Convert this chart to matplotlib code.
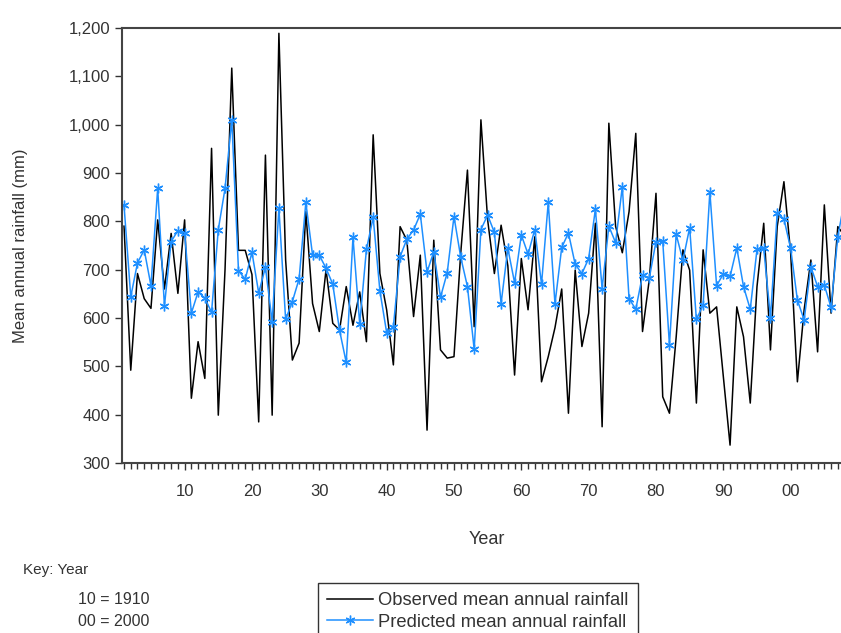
import numpy as np
import matplotlib
matplotlib.use("Agg")
import matplotlib.pyplot as plt
from matplotlib.ticker import FuncFormatter, MultipleLocator

# annual series 1901-2008
years = np.arange(1901, 2009)

observed = [790, 492, 692, 640, 620, 803, 660, 775, 651, 803,
            434, 551, 475, 951, 399, 700, 1117, 740, 740, 690,
            385, 937, 399, 1189, 720, 513, 548, 820, 630, 572,
            700, 589, 575, 665, 585, 654, 551, 979, 692, 617,
            503, 789, 761, 603, 730, 368, 761, 534, 517, 520,
            734, 906, 582, 1010, 803, 692, 792, 708, 482, 723,
            617, 768, 468, 520, 580, 660, 403, 699, 541, 610,
            796, 375, 1003, 790, 735, 820, 982, 572, 679, 858,
            437, 403, 561, 741, 699, 424, 741, 610, 623, 479,
            337, 623, 561, 424, 665, 796, 534, 789, 882, 734,
            468, 617, 720, 530, 834, 610, 789, 770]

predicted = [833, 644, 714, 741, 667, 868, 625, 758, 781, 776,
             610, 654, 641, 612, 783, 868, 1010, 698, 680, 736,
             652, 705, 592, 827, 597, 634, 681, 839, 730, 730,
             703, 670, 575, 508, 767, 588, 742, 808, 656, 570,
             582, 727, 763, 782, 815, 695, 737, 643, 694, 810,
             726, 665, 535, 783, 813, 777, 630, 744, 673, 772,
             732, 783, 670, 839, 629, 746, 776, 711, 692, 723,
             825, 661, 790, 756, 872, 640, 618, 689, 682, 758,
             759, 544, 773, 719, 787, 597, 627, 861, 667, 691,
             686, 745, 665, 618, 742, 744, 601, 817, 805, 744,
             637, 596, 706, 665, 668, 622, 768, 844]

decade_ticks = [1910, 1920, 1930, 1940, 1950, 1960, 1970, 1980, 1990, 2000]
decade_labels = ['10', '20', '30', '40', '50', '60', '70', '80', '90', '00']

plt.rcParams['font.family'] = ['Liberation Sans', 'DejaVu Sans']
txt = '#333333'

fig = plt.figure(figsize=(8.41, 6.33), dpi=100)
# plot area runs past the right edge, as in the cropped original
ax = fig.add_axes([122/841, 1-463/633, (858-122)/841, (463-28)/633])

obs_line, = ax.plot(years, observed, color='black', lw=1.1)
pred_line, = ax.plot(years, predicted, color='#1e8fff', lw=1.1,
                     marker=(6, 2, 0), markersize=7, markeredgewidth=1.0)

ax.set_xlim(1900.7, 2010)
ax.set_ylim(300, 1200)
ax.yaxis.set_major_locator(MultipleLocator(100))
ax.yaxis.set_major_formatter(FuncFormatter(lambda v, p: '{:,.0f}'.format(v)))
ax.set_xticks(decade_ticks)
ax.set_xticklabels(decade_labels)
ax.xaxis.set_minor_locator(MultipleLocator(1))

ax.tick_params(axis='both', which='major', direction='out', length=5,
               width=1, labelsize=12, colors=txt, labelcolor=txt)
ax.tick_params(axis='x', which='minor', direction='out', length=4, width=1, colors=txt)
ax.tick_params(axis='x', pad=10)
for s in ['left', 'bottom', 'top']:
    ax.spines[s].set_color('#444444')
    ax.spines[s].set_linewidth(1.5)
ax.spines['right'].set_visible(False)

ax.set_ylabel('Mean annual rainfall (mm)', fontsize=12, color=txt)
ax.yaxis.set_label_coords(-0.128, 0.5)
ax.set_xlabel('Year', fontsize=13, color=txt)
ax.xaxis.set_label_coords(0.496, -0.156)

fig.text(23/841, 1-570/633, 'Key: Year', fontsize=11, color=txt, va='center')
fig.text(78/841, 1-600/633, '10 = 1910', fontsize=11.5, color=txt, va='center')
fig.text(78/841, 1-622/633, '00 = 2000', fontsize=11.5, color=txt, va='center')

leg = fig.legend([obs_line, pred_line],
                 ['Observed mean annual rainfall', 'Predicted mean annual rainfall'],
                 loc='upper left', bbox_to_anchor=(318/841, 1-583/633),
                 fontsize=13.2, frameon=True, fancybox=False, edgecolor='black',
                 handlelength=2.5, handletextpad=0.3, borderpad=0.5,
                 labelspacing=0.25, borderaxespad=0)
leg.get_frame().set_linewidth(1.0)
for t in leg.get_texts():
    t.set_color(txt)

fig.savefig('out.png', dpi=100)
